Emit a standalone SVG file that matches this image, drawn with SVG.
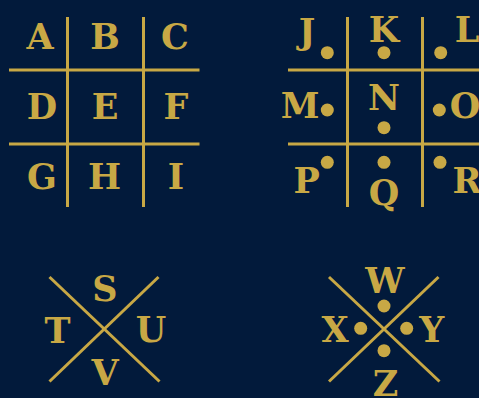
<svg xmlns="http://www.w3.org/2000/svg" width="479" height="398" viewBox="0 0 479 398">
<style>
.ln{stroke:#c8a845;stroke-width:3;fill:none}
.t{font-family:"DejaVu Serif","Liberation Serif",serif;font-weight:bold;font-size:35px;fill:#c8a845;text-anchor:middle}
.d{fill:#c8a845}
</style>
<rect width="479" height="398" fill="#021a3b"/>
<g id="connectors">
<line class="ln" x1="67.5" y1="17" x2="67.5" y2="207"/>
<line class="ln" x1="143.5" y1="17" x2="143.5" y2="207"/>
<line class="ln" x1="9" y1="70" x2="199.5" y2="70"/>
<line class="ln" x1="9" y1="144" x2="199.5" y2="144"/>
<line class="ln" x1="347.5" y1="17" x2="347.5" y2="207"/>
<line class="ln" x1="422.5" y1="17" x2="422.5" y2="207"/>
<line class="ln" x1="288" y1="70" x2="480" y2="70"/>
<line class="ln" x1="288" y1="144" x2="480" y2="144"/>
<line class="ln" x1="49.5" y1="277" x2="159.5" y2="381.5"/>
<line class="ln" x1="158.5" y1="277" x2="49.5" y2="381.5"/>
<line class="ln" x1="329" y1="277" x2="439.5" y2="381.5"/>
<line class="ln" x1="438.5" y1="277" x2="329" y2="381.5"/>
</g>
<g id="A"><text class="t" x="40" y="49">A</text></g>
<g id="B"><text class="t" x="105" y="49">B</text></g>
<g id="C"><text class="t" x="175" y="49">C</text></g>
<g id="D"><text class="t" x="42" y="119">D</text></g>
<g id="E"><text class="t" x="105" y="119">E</text></g>
<g id="F"><text class="t" x="176" y="119">F</text></g>
<g id="G"><text class="t" x="42" y="189">G</text></g>
<g id="H"><text class="t" x="104.5" y="189">H</text></g>
<g id="I"><text class="t" x="176" y="189">I</text></g>
<g id="J"><text class="t" x="307" y="44">J</text><circle class="d" cx="327.3" cy="52.7" r="6.5"/></g>
<g id="K"><text class="t" x="384" y="42">K</text><circle class="d" cx="384" cy="52.7" r="6.5"/></g>
<g id="L"><text class="t" x="467" y="42">L</text><circle class="d" cx="440.7" cy="52.7" r="6.5"/></g>
<g id="M"><text class="t" x="300" y="118">M</text><circle class="d" cx="327.3" cy="110" r="6.5"/></g>
<g id="N"><text class="t" x="384" y="110">N</text><circle class="d" cx="384" cy="127.7" r="6.5"/></g>
<g id="O"><text class="t" x="465" y="118">O</text><circle class="d" cx="439.3" cy="110" r="6.5"/></g>
<g id="P"><text class="t" x="306.7" y="193">P</text><circle class="d" cx="327.3" cy="162.3" r="6.5"/></g>
<g id="Q"><text class="t" x="384" y="205">Q</text><circle class="d" cx="384" cy="162.3" r="6.5"/></g>
<g id="R"><text class="t" x="467" y="193">R</text><circle class="d" cx="440" cy="162.3" r="6.5"/></g>
<g id="S"><text class="t" x="105" y="301">S</text></g>
<g id="T"><text class="t" x="57.5" y="342.5">T</text></g>
<g id="U"><text class="t" x="151" y="342">U</text></g>
<g id="V"><text class="t" x="105" y="385">V</text></g>
<g id="W"><text class="t" x="385" y="292.5">W</text><circle class="d" cx="384" cy="306" r="6.5"/></g>
<g id="X"><text class="t" x="335" y="341.5">X</text><circle class="d" cx="360.7" cy="328.3" r="6.5"/></g>
<g id="Y"><text class="t" x="431.7" y="341.5">Y</text><circle class="d" cx="406.7" cy="328.3" r="6.5"/></g>
<g id="Z"><text class="t" x="385.5" y="396">Z</text><circle class="d" cx="384" cy="350.7" r="6.5"/></g>
</svg>
